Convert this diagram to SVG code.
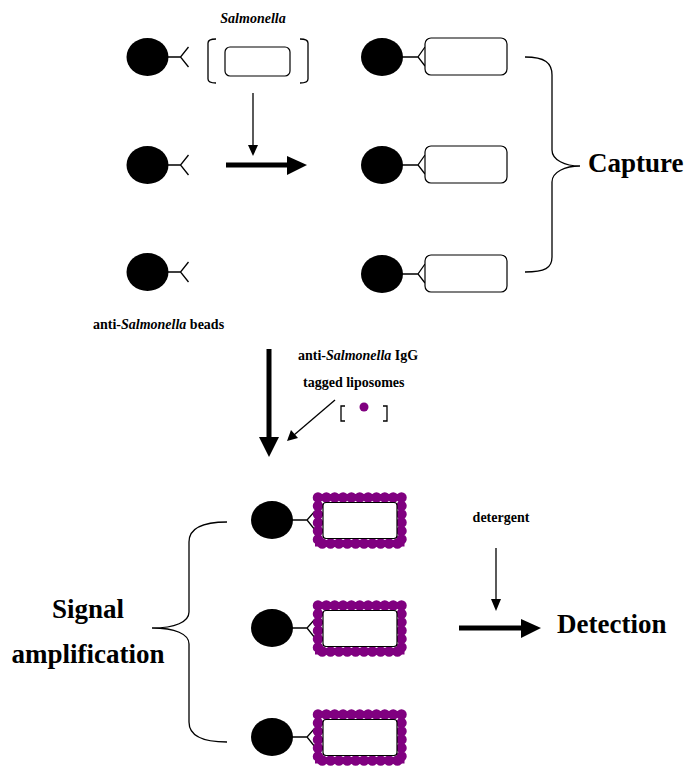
<svg xmlns="http://www.w3.org/2000/svg" xmlns:xlink="http://www.w3.org/1999/xlink" width="691" height="767" viewBox="0 0 691 767">
<style>
text{font-family:"Liberation Serif","Times New Roman",serif;font-weight:bold;fill:#000}
.sm{font-size:14px}
.big{font-size:27px}
.ln{fill:none;stroke:#000;stroke-width:1.3}
.bac{fill:#fff;stroke:#000;stroke-width:1.2}
.bead{fill:#000}
.band{fill:none;stroke:#800080;stroke-width:6}
.beads{fill:none;stroke:#800080;stroke-width:10.5;stroke-linecap:round;stroke-dasharray:0 8.35}
</style>
<defs>
<g id="beadY">
<ellipse class="bead" cx="0" cy="0" rx="21" ry="19"/>
<path class="ln" d="M20,0 H33 M41,-10 L33,0 L41,10"/>
</g>
<g id="beadC">
<ellipse class="bead" cx="0" cy="0" rx="21" ry="19"/>
<path class="ln" d="M20,0 H36 M43,-10 L36,0 L43,9"/>
<rect class="bac" x="43" y="-19" width="82" height="37" rx="6"/>
</g>
<g id="beadL">
<ellipse class="bead" cx="0" cy="0" rx="21" ry="19"/>
<path class="ln" d="M20,0 H35 M43,-9 L35,0 L43,10"/>
<rect class="band" x="46" y="-22.5" width="83.5" height="46"/>
<rect class="beads" x="46" y="-22.5" width="83.5" height="46"/>
<rect class="bac" x="51" y="-17.5" width="74" height="36" rx="3"/>
</g>
</defs>

<g id="beads-left">
<g id="bead1"><use xlink:href="#beadY" x="147.5" y="57"/></g>
<g id="bead2"><use xlink:href="#beadY" x="147.5" y="165"/></g>
<g id="bead3"><use xlink:href="#beadY" x="147.5" y="272"/></g>
</g>

<g id="salmonella">
<text class="sm" x="253" y="23" text-anchor="middle" font-style="italic">Salmonella</text>
<path class="ln" d="M216,39 Q208,39 208,43 L208,79 Q208,83 216,83"/>
<path class="ln" d="M300,39 Q308,39 308,43 L308,79 Q308,83 300,83"/>
<rect class="bac" x="225" y="47" width="65" height="29" rx="5"/>
</g>

<g id="captured">
<g id="cap1"><use xlink:href="#beadC" x="382" y="57"/></g>
<g id="cap2"><use xlink:href="#beadC" x="382" y="165"/></g>
<g id="cap3"><use xlink:href="#beadC" x="382" y="274"/></g>
</g>

<g id="capture-label">
<path class="ln" d="M525,57 C545,57 552,63 552,75 L552,150 C552,160 565,166 580,166 C565,166 552,172 552,182 L552,257 C552,268 545,272 525,272"/>
<text class="big" x="588" y="172">Capture</text>
</g>

<g id="beads-label">
<text class="sm" x="93" y="329">anti-<tspan font-style="italic">Salmonella</tspan> beads</text>
</g>

<g id="liposomes">
<text class="sm" x="298" y="360">anti-<tspan font-style="italic">Salmonella</tspan> IgG</text>
<text class="sm" x="303" y="387">tagged liposomes</text>
<path class="ln" d="M345,406 H341 V421 H345 M383,406 H387 V421 H383"/>
<circle cx="364" cy="407" r="4.5" fill="#800080"/>
</g>

<g id="amplified">
<g id="amp1"><use xlink:href="#beadL" x="272" y="520"/></g>
<g id="amp2"><use xlink:href="#beadL" x="272" y="628"/></g>
<g id="amp3"><use xlink:href="#beadL" x="272" y="737"/></g>
</g>

<g id="signal-label">
<path class="ln" d="M227,522 C200,522 189,530 189,542 L189,612 C189,622 175,628 152,628 C175,628 189,634 189,644 L189,722 C189,734 200,742 227,742"/>
<text class="big" x="88" y="618" text-anchor="middle">Signal</text>
<text class="big" x="88" y="663" text-anchor="middle">amplification</text>
</g>

<g id="detergent">
<text class="sm" x="501" y="522" text-anchor="middle">detergent</text>
</g>

<g id="detection">
<text class="big" x="557" y="633">Detection</text>
</g>

<g id="connectors">
<line x1="253" y1="93" x2="253" y2="146" stroke="#000" stroke-width="1.3"/>
<polygon points="248,145 258,145 253,156"/>
<line x1="226" y1="165" x2="290" y2="165" stroke="#000" stroke-width="5"/>
<polygon points="287,156 307,165 287,175"/>
<line x1="269" y1="349" x2="269" y2="440" stroke="#000" stroke-width="5"/>
<polygon points="259,437 279,437 269,457"/>
<line x1="335" y1="400" x2="294" y2="435" stroke="#000" stroke-width="1.3"/>
<polygon points="287,441 291,430 298,438"/>
<line x1="496" y1="548" x2="496" y2="600" stroke="#000" stroke-width="1.3"/>
<polygon points="491,599 501,599 496,611"/>
<line x1="459" y1="628" x2="524" y2="628" stroke="#000" stroke-width="5"/>
<polygon points="521,619 541,628 521,638"/>
</g>
</svg>
